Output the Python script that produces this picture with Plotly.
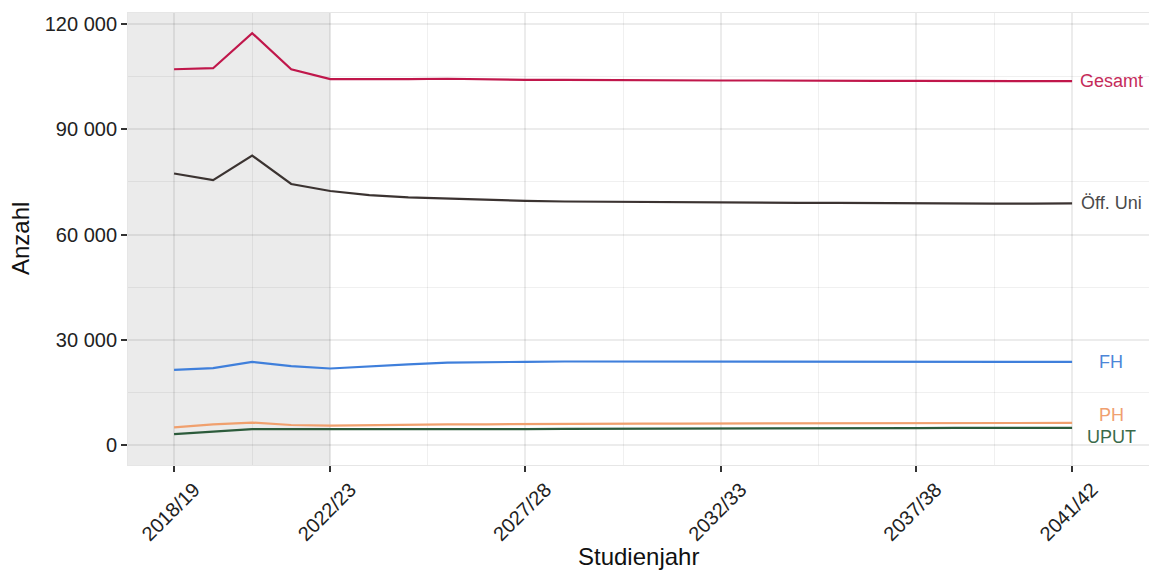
import plotly.graph_objects as go

years = list(range(2018, 2042))
gesamt = [107100, 107400, 117400, 107100, 104300, 104200, 104300, 104400, 104200, 104100,
          104100, 104000, 103900, 103900, 103900, 103900, 103800, 103800, 103800, 103800,
          103700, 103700, 103700, 103700]
oeff_uni = [77400, 75500, 82500, 74400, 72400, 71200, 70600, 70200, 69800, 69600,
            69400, 69300, 69200, 69100, 69100, 69000, 69000, 69000, 68900, 68900,
            68900, 68800, 68800, 68900]
fh = [21400, 21900, 23700, 22500, 21800, 22500, 23000, 23500, 23700, 23700,
      23800, 23800, 23800, 23800, 23800, 23800, 23800, 23800, 23800, 23800,
      23800, 23800, 23700, 23700]
ph = [5000, 5900, 6400, 5700, 5500, 5700, 5800, 5900, 5900, 6000,
      6000, 6100, 6100, 6100, 6100, 6200, 6200, 6200, 6200, 6200,
      6300, 6300, 6300, 6300]
uput = [3100, 3800, 4500, 4500, 4500, 4300, 4400, 4400, 4500, 4500,
        4600, 4600, 4600, 4700, 4700, 4700, 4800, 4800, 4800, 4800,
        4900, 4900, 4900, 4900]

series_names = ["Gesamt", "Öff. Uni", "FH", "PH", "UPUT"]
series_values = [gesamt, oeff_uni, fh, ph, uput]
line_colors = ["#C0174B", "#3B3331", "#3F7FDB", "#F0A06E", "#2C5B3B"]
label_colors = ["#C52B5A", "#4A4A4A", "#4C86D8", "#F0A070", "#3A6A4A"]
label_yshift = [0, 0, 0, 8, -9]

x_tick_years = [2018, 2022, 2027, 2032, 2037, 2041]
x_tick_labels = ["2018/19", "2022/23", "2027/28", "2032/33", "2037/38", "2041/42"]
x_minor = [2020, 2024.5, 2029.5, 2034.5, 2039]
y_ticks = [0, 30000, 60000, 90000, 120000]
y_tick_labels = ["0", "30 000", "60 000", "90 000", "120 000"]
y_minor = [15000, 45000, 75000, 105000]
observed_end = 2022

FONT = "Liberation Sans, Arial, sans-serif"
x_range = [2016.82, 2042.97]
y_range = [-5703, 123137]

fig = go.Figure()
for name, vals, col in zip(series_names, series_values, line_colors):
    fig.add_trace(go.Scatter(x=years, y=vals, mode="lines", name=name,
                             line=dict(color=col, width=2.2), showlegend=False))

for name, vals, col, ys in zip(series_names, series_values, label_colors, label_yshift):
    fig.add_annotation(x=years[-1] + 1, y=vals[-1], xref="x", yref="y", text=name,
                       showarrow=False, xanchor="center", yanchor="middle", yshift=ys,
                       font=dict(family=FONT, size=18, color=col))

fig.add_shape(type="rect", xref="x", yref="paper", x0=x_range[0], x1=observed_end,
              y0=0, y1=1, fillcolor="#EBEBEB", line=dict(width=0), layer="below")

fig.add_annotation(text="Studienjahr", xref="paper", yref="paper", x=0.5, y=0,
                   yshift=-107, xanchor="center", yanchor="bottom", showarrow=False,
                   font=dict(family=FONT, size=24, color="#111"))
fig.add_annotation(text="Anzahl", xref="paper", yref="paper", x=0, y=0.5,
                   xshift=-108, textangle=-90, xanchor="center", yanchor="middle",
                   showarrow=False, font=dict(family=FONT, size=24, color="#111"))

grid = "rgba(0,0,0,0.075)"
minor_grid = "rgba(0,0,0,0.06)"
fig.update_layout(
    width=1149, height=571,
    margin=dict(l=128, r=0, t=13, b=106, autoexpand=False),
    paper_bgcolor="white", plot_bgcolor="white",
    font=dict(family=FONT, size=20, color="#222"),
    xaxis=dict(range=x_range, tickmode="array", tickvals=x_tick_years, ticktext=x_tick_labels,
               tickangle=-45, showgrid=True, gridcolor=grid, gridwidth=1.6, automargin=False,
               zeroline=False, ticks="outside", ticklen=6, tickwidth=2, tickcolor="#333",
               ticklabelshift=20, ticklabelstandoff=-2,
               showline=True, linecolor="#E6E6E6", linewidth=1, mirror=True,
               tickfont=dict(family=FONT, size=20, color="#222"),
               minor=dict(tickmode="array", tickvals=x_minor, showgrid=True,
                          gridcolor=minor_grid, gridwidth=1.2, ticks="")),
    yaxis=dict(range=y_range, tickmode="array", tickvals=y_ticks, ticktext=y_tick_labels,
               showgrid=True, gridcolor=grid, gridwidth=1.6, zeroline=False, automargin=False,
               ticks="outside", ticklen=6, tickwidth=2, tickcolor="#333",
               showline=True, linecolor="#E6E6E6", linewidth=1, mirror=True,
               tickfont=dict(family=FONT, size=20, color="#222"),
               minor=dict(tickmode="array", tickvals=y_minor, showgrid=True,
                          gridcolor=minor_grid, gridwidth=1.2, ticks="")),
)

fig.write_html("out.html", config={"displayModeBar": False},
               post_script="document.body.style.margin='0';")
